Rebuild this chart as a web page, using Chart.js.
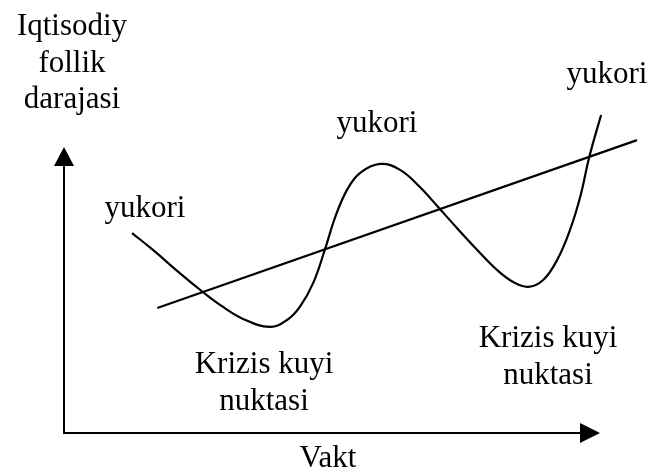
<!DOCTYPE html>
<html>
<head>
<meta charset="utf-8">
<script src="https://cdn.jsdelivr.net/npm/chart.js@4"></script>
<style>
html,body{margin:0;padding:0;background:#fff;}
canvas{display:block;}
</style>
</head>
<body>
<canvas id="c" width="650" height="471"></canvas>
<script>
// Economic activity cycle (time on x, level on y, axes 0..10)
const cycleTime  = [1.27, 1.66, 2.16, 2.59, 2.91, 3.34, 3.84, 4.16, 4.40, 4.65, 4.87, 5.06, 5.28, 5.52, 5.90, 6.27, 6.64, 6.98, 7.33, 7.71, 8.08, 8.38, 8.66, 8.94, 9.20, 9.44, 9.63, 9.80, 10.02];
const cycleLevel = [6.99, 6.40, 5.59, 4.93, 4.48, 3.99, 3.71, 3.95, 4.41, 5.25, 6.43, 7.55, 8.50, 9.09, 9.41, 9.20, 8.60, 7.90, 7.17, 6.40, 5.70, 5.28, 5.11, 5.35, 6.05, 7.10, 8.25, 9.65, 11.12];
const trendTime  = [1.74, 10.69];
const trendLevel = [4.37, 10.24];
const axisTitleY = ["Iqtisodiy", "follik", "darajasi"];
const axisTitleX = "Vakt";
const peakLabel = "yukori";
const troughLabel = ["Krizis kuyi", "nuktasi"];

const toPts = (xs, ys) => xs.map((x, i) => ({x: x, y: ys[i]}));

const decor = {
  id: 'decor',
  afterDatasetsDraw(chart) {
    const ctx = chart.ctx;
    const xs = chart.scales.x, ys = chart.scales.y;
    const x0 = xs.getPixelForValue(0), y0 = ys.getPixelForValue(0);
    const x1 = xs.getPixelForValue(10), y1 = ys.getPixelForValue(10);
    ctx.save();
    ctx.strokeStyle = '#000';
    ctx.fillStyle = '#000';
    ctx.lineWidth = 2;
    // axes
    ctx.beginPath();
    ctx.moveTo(x0, y1 + 18);
    ctx.lineTo(x0, y0);
    ctx.lineTo(x1 - 18, y0);
    ctx.stroke();
    // arrow heads
    ctx.beginPath();
    ctx.moveTo(x0, y1);
    ctx.lineTo(x0 - 10, y1 + 19);
    ctx.lineTo(x0 + 10, y1 + 19);
    ctx.closePath();
    ctx.fill();
    ctx.beginPath();
    ctx.moveTo(x1, y0);
    ctx.lineTo(x1 - 20, y0 - 10);
    ctx.lineTo(x1 - 20, y0 + 10);
    ctx.closePath();
    ctx.fill();
    // text
    ctx.font = '31px "Liberation Serif", "Times New Roman", serif';
    ctx.textAlign = 'center';
    ctx.textBaseline = 'alphabetic';
    ctx.fillText(axisTitleY[0], 72, 35);
    ctx.fillText(axisTitleY[1], 72, 72);
    ctx.fillText(axisTitleY[2], 72, 108);
    ctx.fillText(peakLabel, 145, 217);
    ctx.fillText(peakLabel, 377, 132);
    ctx.fillText(peakLabel, 607, 83);
    ctx.fillText(troughLabel[0], 264, 373);
    ctx.fillText(troughLabel[1], 264, 410);
    ctx.fillText(troughLabel[0], 548, 347);
    ctx.fillText(troughLabel[1], 548, 384);
    ctx.fillText(axisTitleX, 328, 467);
    ctx.restore();
  }
};

new Chart(document.getElementById('c'), {
  type: 'line',
  data: {
    datasets: [
      {
        label: 'cycle',
        data: toPts(cycleTime, cycleLevel),
        borderColor: '#000',
        borderWidth: 2.2,
        pointRadius: 0,
        tension: 0.4,
        fill: false,
        clip: false
      },
      {
        label: 'trend',
        data: toPts(trendTime, trendLevel),
        borderColor: '#000',
        borderWidth: 2.2,
        pointRadius: 0,
        tension: 0,
        fill: false,
        clip: false
      }
    ]
  },
  options: {
    responsive: false,
    animation: false,
    elements: { line: { capBezierPoints: false } },
    layout: { padding: { left: 64, right: 50, top: 147, bottom: 38 } },
    plugins: { legend: { display: false }, tooltip: { enabled: false }, title: { display: false } },
    scales: {
      x: { type: 'linear', min: 0, max: 10, display: false },
      y: { type: 'linear', min: 0, max: 10, display: false }
    }
  },
  plugins: [decor]
});
</script>
</body>
</html>
